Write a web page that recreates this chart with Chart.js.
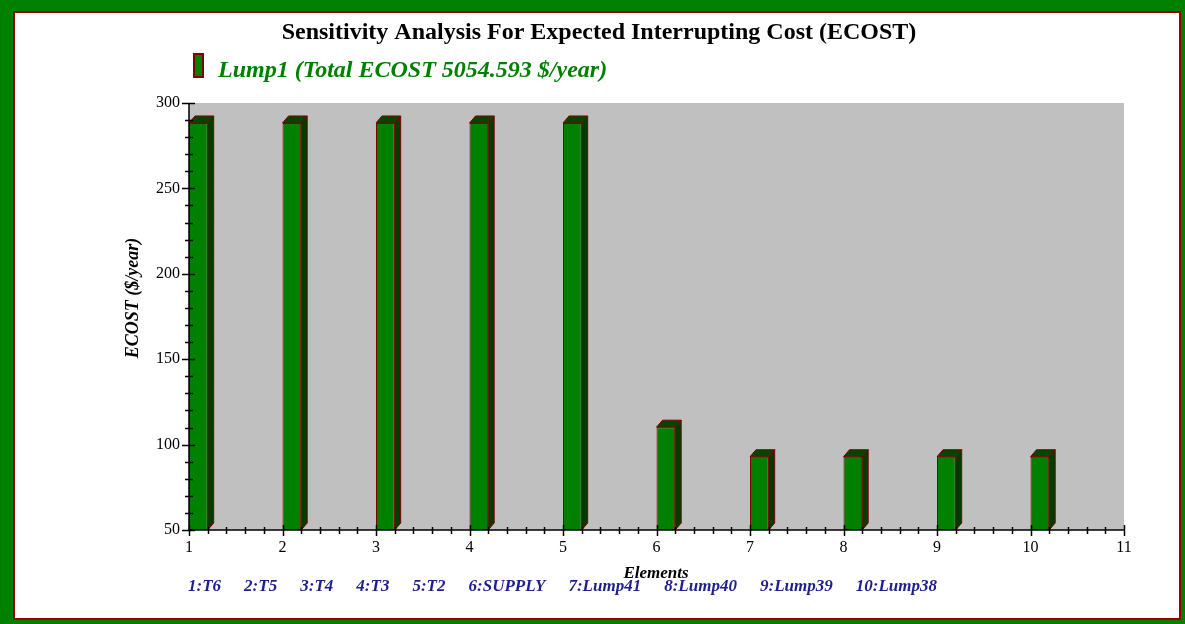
<!DOCTYPE html>
<html>
<head>
<meta charset="utf-8">
<title>ECOST sensitivity</title>
<script src="https://cdn.jsdelivr.net/npm/chart.js@4.4.1/dist/chart.umd.min.js"></script>
<style>
    html, body { margin: 0; padding: 0; background: #008000; }
    canvas { display: block; }
</style>
</head>
<body>
<canvas id="ecost-chart" width="1185" height="624"></canvas>
<script>
// chart data
const TITLE = 'Sensitivity Analysis For Expected Interrupting Cost (ECOST)';
const SERIES_NAME = 'Lump1 (Total ECOST 5054.593 $/year)';
const Y_TITLE = 'ECOST ($/year)';
const X_TITLE = 'Elements';
const ELEMENTS = [1, 2, 3, 4, 5, 6, 7, 8, 9, 10];
const ELEMENT_NAMES = ['T6', 'T5', 'T4', 'T3', 'T2', 'SUPPLY', 'Lump41', 'Lump40', 'Lump39', 'Lump38'];
const ECOST = [288.3, 288.3, 288.3, 288.3, 288.3, 110.2, 92.9, 92.9, 92.9, 92.9];
const X_RANGE = [1, 11];
const Y_RANGE = [50, 300];

const SERIF = '"Liberation Serif", "Times New Roman", serif';
const GREEN = '#008000';
const DARK_RED = '#800000';
const NAVY = '#1e1e8c';

// bars sit just right of their element tick (front face spans x .. x+0.2)
const BAR_SPAN = 0.2;
const barData = ELEMENTS.map((e, i) => ({ x: e + BAR_SPAN / 2, y: ECOST[i] }));

const frameAndText = {
    id: 'frameAndText',
    beforeDraw(chart) {
        const ctx = chart.ctx;
        const a = chart.chartArea;
        ctx.save();
        // outer green frame + white page
        ctx.fillStyle = GREEN;
        ctx.fillRect(0, 0, chart.width, chart.height);
        ctx.fillStyle = '#fff';
        ctx.fillRect(13, 11, 1168, 609);
        ctx.strokeStyle = '#9a0000';
        ctx.lineWidth = 2;
        ctx.strokeRect(14, 12, 1166, 607);
        // plot background
        ctx.fillStyle = '#c0c0c0';
        ctx.fillRect(a.left, a.top, a.right - a.left, a.bottom - a.top);
        ctx.restore();
    },
    afterDatasetsDraw(chart) {
        const ctx = chart.ctx;
        const a = chart.chartArea;
        const xs = chart.scales.x;
        const ys = chart.scales.y;
        const dx = 6, dy = 7;

        ctx.save();
        // 3d top and side of each bar
        chart.getDatasetMeta(0).data.forEach(bar => {
            const x0 = bar.x - bar.width / 2;
            const x1 = bar.x + bar.width / 2;
            const yt = bar.y;
            const yb = Math.min(bar.base, a.bottom);
            ctx.lineWidth = 1;
            ctx.strokeStyle = DARK_RED;

            ctx.fillStyle = '#004600';
            ctx.beginPath();
            ctx.moveTo(x0, yt);
            ctx.lineTo(x0 + dx, yt - dy);
            ctx.lineTo(x1 + dx, yt - dy);
            ctx.lineTo(x1, yt);
            ctx.closePath();
            ctx.fill();
            ctx.stroke();

            ctx.fillStyle = '#003c00';
            ctx.beginPath();
            ctx.moveTo(x1, yt);
            ctx.lineTo(x1 + dx, yt - dy);
            ctx.lineTo(x1 + dx, yb - dy);
            ctx.lineTo(x1, yb);
            ctx.closePath();
            ctx.fill();
            ctx.stroke();
        });

        // axis lines and tick marks (major + minor)
        ctx.strokeStyle = '#000';
        ctx.lineWidth = 1.5;
        ctx.beginPath();
        ctx.moveTo(a.left, a.top);
        ctx.lineTo(a.left, a.bottom);
        ctx.lineTo(a.right, a.bottom);
        ctx.stroke();

        ctx.beginPath();
        for (let v = Y_RANGE[0]; v <= Y_RANGE[1]; v += 10) {
            const y = Math.round(ys.getPixelForValue(v)) + 0.5;
            const major = v % 50 === 0;
            ctx.moveTo(a.left - (major ? 7 : 4), y);
            ctx.lineTo(a.left + (major ? 6 : 4), y);
        }
        for (let k = X_RANGE[0] * 5; k <= X_RANGE[1] * 5; k++) {
            const x = Math.round(xs.getPixelForValue(k / 5)) + 0.5;
            const major = k % 5 === 0;
            ctx.moveTo(x, a.bottom - (major ? 5 : 3));
            ctx.lineTo(x, a.bottom + (major ? 6 : 4));
        }
        ctx.stroke();
        ctx.restore();
    },
    afterDraw(chart) {
        const ctx = chart.ctx;
        ctx.save();
        ctx.textBaseline = 'alphabetic';

        // title
        ctx.fillStyle = '#000';
        ctx.font = 'bold 24px ' + SERIF;
        ctx.textAlign = 'center';
        ctx.fillText(TITLE, 599, 39);

        // legend
        ctx.fillStyle = GREEN;
        ctx.strokeStyle = DARK_RED;
        ctx.lineWidth = 2;
        ctx.fillRect(194, 54, 9, 23);
        ctx.strokeRect(194, 54, 9, 23);
        ctx.font = 'italic bold 24px ' + SERIF;
        ctx.textAlign = 'left';
        ctx.fillText(SERIES_NAME, 218, 77);

        // axis titles
        ctx.fillStyle = '#000';
        ctx.font = 'italic bold 18px ' + SERIF;
        ctx.save();
        ctx.translate(138, 298);
        ctx.rotate(-Math.PI / 2);
        ctx.textAlign = 'center';
        ctx.fillText(Y_TITLE, 0, 0);
        ctx.restore();

        ctx.font = 'italic bold 17px ' + SERIF;
        ctx.textAlign = 'center';
        ctx.fillText(X_TITLE, 656, 578);

        // element key along the bottom
        ctx.fillStyle = NAVY;
        ctx.font = 'italic bold 17px ' + SERIF;
        ctx.textAlign = 'left';
        const items = ELEMENTS.map((e, i) => e + ':' + ELEMENT_NAMES[i]);
        const widths = items.map(t => ctx.measureText(t).width);
        const startX = 188, endX = 937;
        const gap = (endX - startX - widths.reduce((s, w) => s + w, 0)) / (items.length - 1);
        let x = startX;
        items.forEach((t, i) => {
            ctx.fillText(t, x, 591);
            x += widths[i] + gap;
        });
        ctx.restore();
    }
};

function initChart() {
    const ctx = document.getElementById('ecost-chart').getContext('2d');
    return new Chart(ctx, {
        type: 'bar',
        data: {
            datasets: [{
                label: SERIES_NAME,
                data: barData,
                base: Y_RANGE[0],
                backgroundColor: GREEN,
                borderColor: DARK_RED,
                borderWidth: 1,
                borderSkipped: false,
                barPercentage: BAR_SPAN,
                categoryPercentage: 1
            }]
        },
        options: {
            responsive: false,
            animation: false,
            devicePixelRatio: 1,
            layout: { padding: { left: 0, right: 61, top: 103, bottom: 0 } },
            plugins: {
                legend: { display: false },
                title: { display: false },
                tooltip: { enabled: false }
            },
            scales: {
                x: {
                    type: 'linear',
                    offset: false,
                    min: X_RANGE[0],
                    max: X_RANGE[1],
                    grid: { display: false, drawTicks: false, offset: false },
                    border: { display: false },
                    ticks: {
                        stepSize: 1,
                        autoSkip: false,
                        padding: 8,
                        color: '#000',
                        font: { family: SERIF, size: 16 }
                    },
                    afterFit(scale) { scale.height = 94; }
                },
                y: {
                    min: Y_RANGE[0],
                    max: Y_RANGE[1],
                    grid: { display: false, drawTicks: false },
                    border: { display: false },
                    ticks: {
                        stepSize: 50,
                        padding: 9,
                        color: '#000',
                        font: { family: SERIF, size: 16 }
                    },
                    afterFit(scale) { scale.width = 189; }
                }
            }
        },
        plugins: [frameAndText]
    });
}

document.addEventListener('DOMContentLoaded', () => {
    initChart();
});
</script>
</body>
</html>
